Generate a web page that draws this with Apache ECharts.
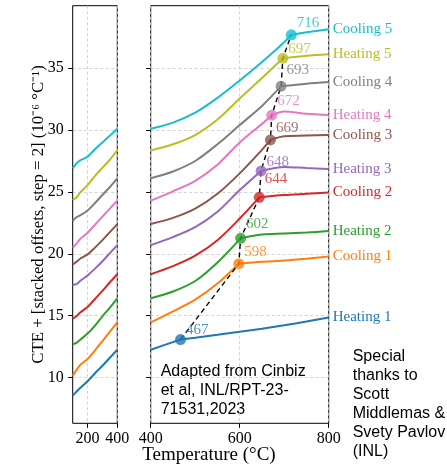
<!DOCTYPE html>
<html>
<head>
<meta charset="utf-8">
<script src="https://cdn.jsdelivr.net/npm/echarts@6/dist/echarts.min.js"></script>
<style>
  html, body { margin: 0; padding: 0; background: #fff; }
  #chart { width: 447px; height: 473px; }
</style>
</head>
<body>
<div id="chart"></div>
<script>
// Thermal cycles, bottom to top (each curve offset by 2 for readability)
const seriesNames = ['Heating 1', 'Cooling 1', 'Heating 2', 'Cooling 2', 'Heating 3',
                     'Cooling 3', 'Heating 4', 'Cooling 4', 'Heating 5', 'Cooling 5'];
const seriesColors = ['#1f77b4', '#ff7f0e', '#2ca02c', '#d62728', '#9467bd',
                      '#8c564b', '#e377c2', '#7f7f7f', '#bcbd22', '#17becf'];

// Temperatures (°C) sampled in the low-range and high-range panels
const tempsLow = [100, 125, 150, 200, 250, 300, 350, 400];
const tempsHigh = [400, 450, 500, 550, 600, 650, 700, 750, 800];

// CTE + offset (1e-6 /°C), one row per cycle, at tempsLow
const cteLow = [
  [8.55, 8.85, 9.15, 9.7, 10.35, 10.95, 11.6, 12.25],
  [10.15, 10.6, 11.0, 11.5, 12.2, 12.95, 13.7, 14.45],
  [12.7, 12.8, 13.05, 13.55, 14.2, 14.95, 15.65, 16.4],
  [14.75, 14.95, 15.25, 15.7, 16.35, 17.0, 17.7, 18.35],
  [17.5, 17.55, 17.8, 18.25, 18.8, 19.4, 20.05, 20.7],
  [19.15, 19.35, 19.6, 19.95, 20.5, 21.1, 21.75, 22.4],
  [20.5, 20.8, 21.2, 21.7, 22.35, 23.0, 23.65, 24.3],
  [22.65, 22.95, 23.1, 23.5, 24.1, 24.75, 25.4, 26.1],
  [24.35, 24.55, 24.95, 25.55, 26.3, 26.95, 27.6, 28.35],
  [26.9, 27.3, 27.55, 27.85, 28.45, 29.0, 29.55, 30.1]
];

// CTE + offset at tempsHigh
const cteHigh = [
  [12.25, 12.86, 13.22, 13.45, 13.69, 13.95, 14.22, 14.52, 14.85],
  [14.45, 15.35, 16.3, 17.6, 19.22, 19.35, 19.45, 19.6, 19.78],
  [16.4, 16.95, 17.8, 19.3, 21.17, 21.55, 21.63, 21.72, 21.84],
  [18.35, 19.0, 19.85, 21.1, 22.85, 24.65, 24.75, 24.85, 24.95],
  [20.7, 21.35, 22.15, 23.4, 25.15, 26.8, 27.02, 26.93, 26.85],
  [22.4, 22.9, 23.65, 24.85, 26.5, 28.4, 29.5, 29.55, 29.6],
  [24.3, 25.05, 25.9, 27.2, 29.0, 30.5, 31.5, 31.32, 31.22],
  [26.1, 26.65, 27.5, 28.85, 30.4, 31.95, 33.62, 33.75, 33.88],
  [28.35, 28.85, 29.6, 30.85, 32.55, 34.2, 35.85, 36.0, 36.12],
  [30.1, 30.6, 31.4, 32.6, 34.0, 35.5, 37.1, 37.9, 38.15]
];

// Transition temperature (°C) of each cycle and the curve value there
const transitionTemps = [467, 598, 602, 644, 648, 669, 672, 693, 697, 716];
const transitionCTE = [13.07, 19.2, 21.25, 24.56, 26.7, 29.2, 31.2, 33.55, 35.8, 37.7];

const yTicks = [10, 15, 20, 25, 30, 35];
const xTicksLow = [200, 400];
const xTicksHigh = [400, 600, 800];

// vertical nudge (px) of each transition label above its marker
const transitionLabelDy = [-9, -12, -14, -18, -9, -12, -14, -16, -9, -12];

const serif = 'Liberation Serif';
const gridTop = 5.7, gridHeight = 417.6;

const splitLine = { show: true, lineStyle: { color: '#c8c8c8', width: 0.8, type: [3, 2.5] } };
const tickStyle = { show: true, inside: false, length: 4.5, lineStyle: { color: '#000', width: 1 } };

const series = [];

seriesNames.forEach((name, i) => {
  // low-range panel
  series.push({
    type: 'line', xAxisIndex: 0, yAxisIndex: 0,
    data: tempsLow.map((t, j) => [t, cteLow[i][j]]),
    smooth: 0.3, showSymbol: false, silent: true, z: 2,
    lineStyle: { color: seriesColors[i], width: 2 }
  });

  // high-range panel: rising branch up to the transition, plateau after it
  const tm = transitionTemps[i], vm = transitionCTE[i];
  const rising = [];
  const plateau = [[tm, vm]];
  tempsHigh.forEach((t, j) => {
    if (t < tm - 10) rising.push([t, cteHigh[i][j]]);
    else if (t > tm + 10) plateau.push([t, cteHigh[i][j]]);
  });
  rising.push([tm, vm]);

  series.push({
    type: 'line', xAxisIndex: 1, yAxisIndex: 1,
    data: rising, smooth: 0.3, showSymbol: false, silent: true, z: 2,
    lineStyle: { color: seriesColors[i], width: 2 }
  });
  series.push({
    name: name,
    type: 'line', xAxisIndex: 1, yAxisIndex: 1,
    data: plateau, smooth: 0.3, showSymbol: false, silent: true, z: 2,
    lineStyle: { color: seriesColors[i], width: 2 },
    endLabel: {
      show: true, formatter: name, color: seriesColors[i], distance: 4,
      fontFamily: serif, fontSize: 15
    }
  });
});

// dashed trend through the transition points
series.push({
  type: 'line', xAxisIndex: 1, yAxisIndex: 1,
  data: transitionTemps.map((t, i) => [t, transitionCTE[i]]),
  showSymbol: false, silent: true, z: 3,
  lineStyle: { color: '#000', width: 1.4, type: [5, 3.5] }
});

// transition markers with their temperatures
series.push({
  type: 'scatter', xAxisIndex: 1, yAxisIndex: 1,
  symbolSize: 11, silent: true, z: 4,
  data: transitionTemps.map((t, i) => ({
    value: [t, transitionCTE[i]],
    itemStyle: { color: seriesColors[i] },
    label: {
      show: true, position: 'right', distance: 0,
      offset: [0, transitionLabelDy[i]],
      formatter: String(t), color: seriesColors[i],
      fontFamily: serif, fontSize: 15
    }
  }))
});

const option = {
  backgroundColor: '#fff',
  animation: false,
  grid: [
    { left: 72.7, top: gridTop, width: 44.6, height: gridHeight,
      show: true, borderColor: '#000', borderWidth: 1, backgroundColor: 'transparent' },
    { left: 150.7, top: gridTop, width: 178, height: gridHeight,
      show: true, borderColor: '#000', borderWidth: 1, backgroundColor: 'transparent' }
  ],
  xAxis: [
    { type: 'value', gridIndex: 0, min: 100, max: 400, splitNumber: 2,
      axisLine: { show: false },
      axisTick: Object.assign({ customValues: xTicksLow }, tickStyle),
      axisLabel: { customValues: xTicksLow, margin: 7, color: '#000', fontFamily: serif, fontSize: 16 },
      splitLine: splitLine },
    { type: 'value', gridIndex: 1, min: 400, max: 800, interval: 200,
      axisLine: { show: false },
      axisTick: Object.assign({ customValues: xTicksHigh }, tickStyle),
      axisLabel: { customValues: xTicksHigh, margin: 7, color: '#000', fontFamily: serif, fontSize: 16 },
      splitLine: splitLine }
  ],
  yAxis: [
    { type: 'value', gridIndex: 0, min: 6.3, max: 40.05, splitNumber: 5,
      axisLine: { show: false },
      axisTick: Object.assign({ customValues: yTicks }, tickStyle),
      axisLabel: { customValues: yTicks, margin: 9, color: '#000', fontFamily: serif, fontSize: 16 },
      splitLine: splitLine },
    { type: 'value', gridIndex: 1, min: 6.3, max: 40.05, splitNumber: 5,
      axisLine: { show: false },
      axisTick: Object.assign({ customValues: yTicks }, tickStyle),
      axisLabel: { show: false, customValues: yTicks },
      splitLine: splitLine }
  ],
  graphic: [
    { type: 'text', x: 38.5, y: 214.5, rotation: Math.PI / 2,
      style: { text: 'CTE + [stacked offsets, step = 2] (10⁻⁶ °C⁻¹)', fill: '#000',
               font: '16.8px "Liberation Serif"', align: 'center', verticalAlign: 'middle' } },
    { type: 'text', x: 209, y: 455,
      style: { text: 'Temperature (°C)', fill: '#000', font: '19px "Liberation Serif"',
               align: 'center', verticalAlign: 'middle' } },
    { type: 'text', x: 160.7, y: 362,
      style: { text: 'Adapted from Cinbiz\net al, INL/RPT-23-\n71531,2023', fill: '#000',
               font: '16px "Liberation Sans"', lineHeight: 19, align: 'left', verticalAlign: 'top' } },
    { type: 'text', x: 352.7, y: 347,
      style: { text: 'Special\nthanks to\nScott\nMiddlemas &\nSvety Pavlov\n(INL)', fill: '#000',
               font: '16px "Liberation Sans"', lineHeight: 19, align: 'left', verticalAlign: 'top' } }
  ],
  series: series
};

const chart = echarts.init(document.getElementById('chart'), null, { renderer: 'canvas' });
chart.setOption(option);
</script>
</body>
</html>
